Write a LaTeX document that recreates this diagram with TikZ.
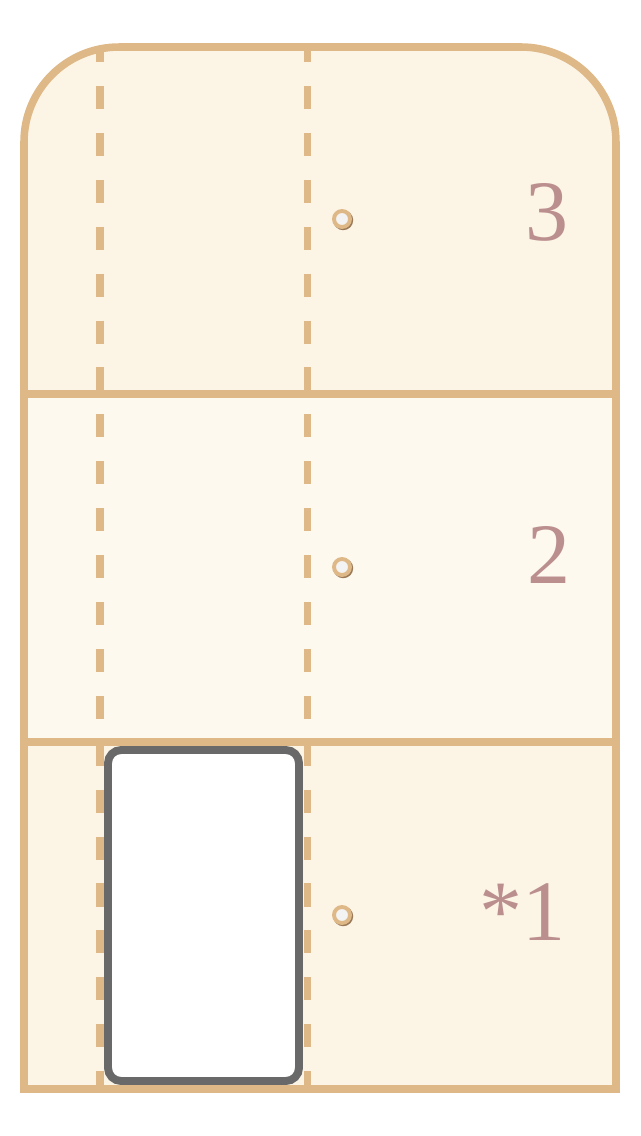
\documentclass[tikz,border=0pt]{standalone}
\usepackage{fontspec}
\setmainfont{Liberation Serif}
\definecolor{burly}{HTML}{DEB887}
\definecolor{lace}{HTML}{FCF4E5}
\definecolor{floral}{HTML}{FDF9EF}
\definecolor{rosy}{HTML}{BC8F8F}
\definecolor{slotgray}{HTML}{696969}
\definecolor{holefill}{HTML}{F3F3F3}
\definecolor{holeshade}{HTML}{9A7A58}
\begin{document}
\begin{tikzpicture}[
    x=0.02cm, y=-0.02cm,
    frame/.style={draw=burly, line width=4.3pt},
    fold/.style={draw=burly, line width=4.5pt, dash pattern=on 13.1pt off 13.6pt, dash phase=4.5pt},
    hole/.style={circle, draw=burly, fill=holefill, line width=2.2pt, minimum size=0.32cm, inner sep=0pt,
        preaction={draw=holeshade, transform canvas={shift={(0.7pt,-0.7pt)}}}},
    num/.style={text=rosy, font=\fontsize{49}{49}\selectfont, anchor=base east, inner sep=0pt},
    slot/.style={rectangle, rounded corners=0.26cm, draw=slotgray, fill=white, line width=4.5pt,
        minimum width=3.82cm, minimum height=6.62cm, inner sep=0pt}
]
\useasboundingbox (0,0) rectangle (640,1136);

% --- Panels ---
\fill[lace] (24,1089) -- (24,142) arc[start angle=180, end angle=90, radius=1.9cm]
    -- (521,47) arc[start angle=90, end angle=0, radius=1.9cm] -- (616,1089) -- cycle;
\fill[floral] (24,394) rectangle (616,742);

% fold lines
\coordinate (foldA top) at (100,47);
\coordinate (foldA bot) at (100,1089);
\coordinate (foldB top) at (307.5,47);
\coordinate (foldB bot) at (307.5,1089);
\draw[fold] (foldA top) -- (foldA bot);
\draw[fold] (foldB top) -- (foldB bot);

% outline and dividers
\draw[frame] (24,1089) -- (24,142) arc[start angle=180, end angle=90, radius=1.9cm]
    -- (521,47) arc[start angle=90, end angle=0, radius=1.9cm] -- (616,1089) -- cycle;
\draw[frame] (24,394) -- (616,394);
\draw[frame] (24,742) -- (616,742);

% --- Nodes ---
\node (hole3) at (342,219) [hole] {};
\node (hole2) at (342,567) [hole] {};
\node (hole1) at (342,915) [hole] {};

\node (num3) at (569,240) [num] {3};
\node (num2) at (571,583) [num] {2};
\node (num1) at (566,940) [num] {*1};

\node (slot) at (203.5,915.5) [slot] {};

\end{tikzpicture}
\end{document}
